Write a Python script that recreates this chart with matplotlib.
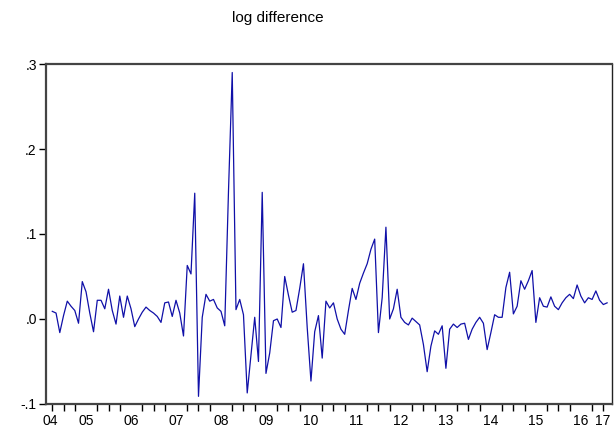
import numpy as np
import matplotlib
matplotlib.use("Agg")
import matplotlib.pyplot as plt

plt.rcParams['font.family'] = ['Liberation Sans', 'DejaVu Sans']

# monthly log differences, 2004M04 .. 2016M08
dlog = np.array([
    0.009, 0.007, -0.016, 0.004, 0.021, 0.015, 0.010, -0.005, 0.044, 0.032,
    0.007, -0.015, 0.022, 0.022, 0.012, 0.035, 0.010, -0.006, 0.027, 0.002,
    0.027, 0.012, -0.009, 0.000, 0.008, 0.014, 0.010, 0.007, 0.003, -0.004,
    0.019, 0.020, 0.003, 0.022, 0.007, -0.020, 0.063, 0.053, 0.148, -0.091,
    0.002, 0.029, 0.021, 0.023, 0.013, 0.009, -0.008, 0.150, 0.290, 0.011,
    0.023, 0.005, -0.087, -0.042, 0.002, -0.050, 0.149, -0.064, -0.040, -0.002,
    0.000, -0.010, 0.050, 0.028, 0.008, 0.010, 0.036, 0.065, -0.010, -0.073,
    -0.015, 0.004, -0.046, 0.021, 0.013, 0.019, 0.000, -0.012, -0.018, 0.010,
    0.036, 0.023, 0.042, 0.054, 0.065, 0.082, 0.094, -0.016, 0.025, 0.108,
    0.000, 0.012, 0.035, 0.002, -0.004, -0.007, 0.001, -0.003, -0.007, -0.030,
    -0.062, -0.032, -0.014, -0.018, -0.008, -0.058, -0.012, -0.006, -0.010, -0.006,
    -0.005, -0.024, -0.012, -0.004, 0.002, -0.005, -0.036, -0.016, 0.005, 0.002,
    0.002, 0.037, 0.055, 0.006, 0.015, 0.045, 0.035, 0.045, 0.057, -0.004,
    0.025, 0.015, 0.014, 0.026, 0.015, 0.011, 0.019, 0.025, 0.029, 0.024,
    0.040, 0.027, 0.019, 0.025, 0.023, 0.033, 0.022, 0.017, 0.019,
])
t = np.arange(len(dlog))

year_labels = ['04', '05', '06', '07', '08', '09', '10', '11', '12',
               '13', '14', '15', '16', '17']
year_pos = [-0.6, 9, 21, 33, 45, 57, 69, 81, 93, 105, 117, 129, 141, 146.8]
y_ticks = [-0.1, 0.0, 0.1, 0.2, 0.3]
y_labels = ['-.1', '.0', '.1', '.2', '.3']

fig = plt.figure(figsize=(6.14, 4.29), dpi=100)
ax = fig.add_axes([0.0757, 0.0583, 0.921, 0.7925])

ax.plot(t, dlog, color='#1010a8', lw=0.9)

ax.set_xlim(-1.55, 149.3)
ax.set_ylim(-0.1, 0.3)

ax.set_yticks(y_ticks)
ax.set_yticklabels(y_labels)
ax.set_xticks(year_pos)
ax.set_xticklabels(year_labels)
ax.set_xticks(np.arange(0, 149, 3), minor=True)

ax.tick_params(axis='y', direction='out', length=5, width=1, labelsize=10, pad=2)
ax.tick_params(axis='x', which='major', direction='out', length=0, labelsize=10, pad=7)
ax.tick_params(axis='x', which='minor', direction='out', length=5, width=1)

for side in ['left', 'top', 'bottom']:
    ax.spines[side].set_color('#444444')
    ax.spines[side].set_linewidth(1.6)
ax.spines['right'].set_color('#222222')
ax.spines['right'].set_linewidth(1.0)

fig.text(278 / 614, 1 - 18 / 429, 'log difference', ha='center', va='center', fontsize=11)

fig.savefig('out.png', dpi=100)
